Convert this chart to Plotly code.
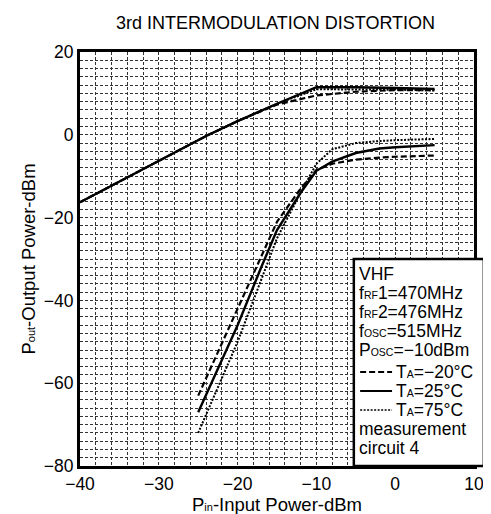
import plotly.graph_objects as go

# ---- data ----
x_fund = [-40, -30, -24, -20, -15, -10, -5, 0, 5]
fund_m20 = [-16.3, -6.3, -0.3, 3.3, 7.3, 9.5, 10.4, 10.8, 10.8]
fund_25 = [-16.3, -6.3, -0.3, 3.3, 7.5, 11.5, 11.5, 11.3, 11.1]
fund_75 = [-16.3, -6.3, -0.3, 3.3, 7.5, 11.0, 11.0, 10.9, 10.7]

x_imd = [-25, -20, -17, -15, -12, -10, -8, -5, -2, 0, 5]
imd_m20 = [-63, -42, -29, -21, -13, -8.5, -7, -6, -5.5, -5.3, -5]
imd_25 = [-67, -46, -32, -23, -14, -8.7, -6.5, -4.4, -3.3, -3, -2.5]
imd_75 = [-72, -50, -35, -25, -14, -7, -3.5, -2, -1.5, -1.3, -1]

x_ticks = [-40, -30, -20, -10, 0, 10]
y_ticks = [20, 0, -20, -40, -60, -80]

SUB = "<span style='font-size:10.5px'>{}</span>"
legend_lines = [
    "VHF",
    "f" + SUB.format("RF") + "1=470MHz",
    "f" + SUB.format("RF") + "2=476MHz",
    "f" + SUB.format("OSC") + "=515MHz",
    "P" + SUB.format("OSC") + "=\u221210dBm",
]
temp_labels = [
    "T" + SUB.format("A") + "=\u221220\u00b0C",
    "T" + SUB.format("A") + "=25\u00b0C",
    "T" + SUB.format("A") + "=75\u00b0C",
]
footer_lines = ["measurement", "circuit 4"]

FONT = "Liberation Sans, Arial, sans-serif"
styles = [
    dict(dash="6px,3px", width=2.2),
    dict(dash="solid", width=2.4),
    dict(dash="2px,1.5px", width=2.0),
]

fig = go.Figure()
for ys, st in zip([fund_m20, fund_25, fund_75], styles):
    fig.add_trace(go.Scatter(x=x_fund, y=ys, mode="lines",
                             line=dict(color="black", **st), showlegend=False))
for ys, st in zip([imd_m20, imd_25, imd_75], styles):
    fig.add_trace(go.Scatter(x=x_imd, y=ys, mode="lines",
                             line=dict(color="black", **st), showlegend=False))

grid = dict(showgrid=True, gridcolor="#333", gridwidth=1, griddash="3px,2px")
minor = dict(dtick=2, showgrid=True, gridcolor="#333", gridwidth=1, griddash="3px,2px")
fig.update_xaxes(range=[-40, 10], tickvals=x_ticks,
                 ticktext=[str(v).replace("-", "\u2212") for v in x_ticks],
                 showline=True, mirror=True, linecolor="black", linewidth=3,
                 ticks="", zeroline=False, automargin=False, minor=minor,
                 tickfont=dict(family=FONT, size=17.5, color="black"),
                 title=dict(text="P<span style='font-size:11px'>in</span>-Input Power-dBm",
                            font=dict(family=FONT, size=18.5, color="black"), standoff=2),
                 **grid)
fig.update_yaxes(range=[-80, 20], tickvals=y_ticks,
                 ticktext=[str(v).replace("-", "\u2212") for v in y_ticks],
                 showline=True, mirror=True, linecolor="black", linewidth=3,
                 ticks="", zeroline=False, automargin=False, minor=minor,
                 tickfont=dict(family=FONT, size=17.5, color="black"),
                 title=dict(text="P<span style='font-size:11px'>out</span>-Output Power-dBm",
                            font=dict(family=FONT, size=18.5, color="black"), standoff=4),
                 **grid)

# legend box
bx0, bx1, by0, by1 = 0.695, 1.025, 0.0, 0.50
fig.add_shape(type="rect", xref="paper", yref="paper", x0=bx0, x1=bx1, y0=by0, y1=by1,
              fillcolor="white", line=dict(color="black", width=2.5), layer="above")

ph = 458 - 44  # plot height px
line_px = 19
y_cur = by1 - 15 / ph
for t in legend_lines:
    fig.add_annotation(xref="paper", yref="paper", x=bx0 + 0.008, y=y_cur, text=t,
                       showarrow=False, xanchor="left", yanchor="middle",
                       font=dict(family=FONT, size=17.5, color="black"))
    y_cur -= line_px / ph
y_cur -= 3 / ph
for t, st in zip(temp_labels, styles):
    fig.add_shape(type="line", xref="paper", yref="paper", x0=bx0 + 0.016, x1=bx0 + 0.097,
                  y0=y_cur, y1=y_cur, line=dict(color="black", dash=st["dash"], width=st["width"] * 0.8),
                  layer="above")
    fig.add_annotation(xref="paper", yref="paper", x=bx0 + 0.102, y=y_cur, text=t,
                       showarrow=False, xanchor="left", yanchor="middle",
                       font=dict(family=FONT, size=17.5, color="black"))
    y_cur -= line_px / ph
for t in footer_lines:
    fig.add_annotation(xref="paper", yref="paper", x=bx0 + 0.008, y=y_cur, text=t,
                       showarrow=False, xanchor="left", yanchor="middle",
                       font=dict(family=FONT, size=17.5, color="black"))
    y_cur -= line_px / ph

fig.update_layout(
    width=491, height=514,
    margin=dict(l=72, r=25, t=44, b=56),
    paper_bgcolor="white", plot_bgcolor="white",
    title=dict(text="3rd INTERMODULATION DISTORTION", x=0.545, xanchor="center",
               y=0.972, yanchor="middle",
               font=dict(family=FONT, size=18, color="black")),
)

fig.write_html("out.html")
